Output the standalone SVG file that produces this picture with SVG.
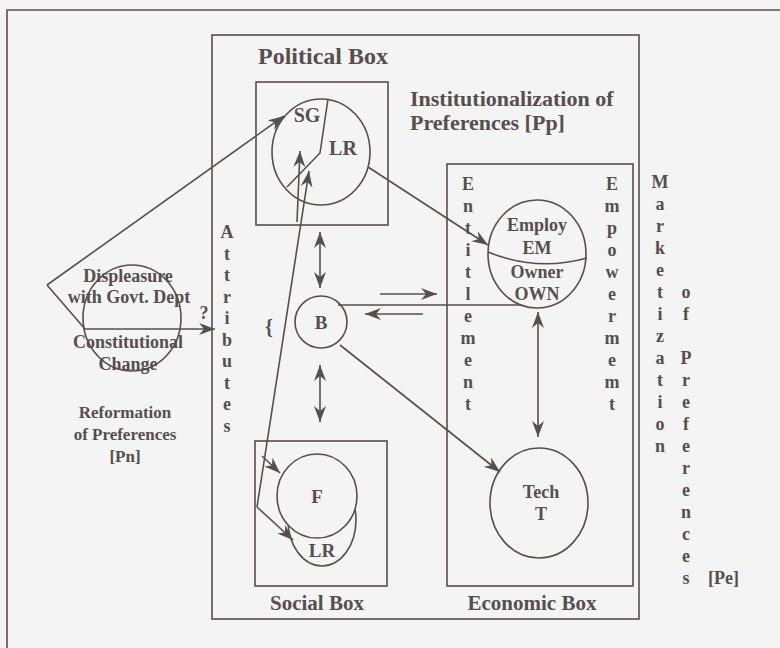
<svg xmlns="http://www.w3.org/2000/svg" width="780" height="648" viewBox="0 0 780 648">
<defs>
<marker id="ah" markerUnits="userSpaceOnUse" markerWidth="18" markerHeight="14" refX="16" refY="6" orient="auto-start-reverse">
<path d="M0,0 L16,6 L0,12 L5,6 Z" fill="#574e4e"/>
</marker>
<style>
.s{fill:none;stroke:#574e4e;stroke-width:1.6}
.n{fill:#f4f4f4;stroke:#574e4e;stroke-width:1.6}
.t{font-family:"Liberation Serif","Times New Roman",serif;font-weight:bold;fill:#574e4e;text-anchor:middle}
.tl{font-family:"Liberation Serif","Times New Roman",serif;font-weight:bold;fill:#574e4e}
.v{font-size:18px}
.a{marker-end:url(#ah)}
.d{marker-start:url(#ah);marker-end:url(#ah)}
</style>
</defs>
<rect x="0" y="0" width="780" height="648" fill="#f4f4f4"/>
<path class="s" d="M7,648 V10 H780"/>

<g id="institutional-box">
<rect class="s" x="212" y="35" width="427" height="584"/>
<text class="tl" x="410" y="106" font-size="22">Institutionalization of</text>
<text class="tl" x="410" y="130" font-size="22">Preferences [Pp]</text>
<text class="t v"><tspan x="227" y="238">A</tspan><tspan x="227" y="259.5">t</tspan><tspan x="227" y="281">t</tspan><tspan x="227" y="302.5">r</tspan><tspan x="227" y="324">i</tspan><tspan x="227" y="345.5">b</tspan><tspan x="227" y="367">u</tspan><tspan x="227" y="388.5">t</tspan><tspan x="227" y="410">e</tspan><tspan x="227" y="431.5">s</tspan></text>
<text class="t" x="269" y="334" font-size="20">{</text>
</g>

<g id="political-box">
<rect class="s" x="256" y="82" width="132" height="143"/>
<text class="tl" x="258" y="64" font-size="24">Political Box</text>
</g>

<g id="sg-lr">
<ellipse class="n" cx="321" cy="152" rx="49" ry="53"/>
<polyline class="s" points="328,99 320,153 287,187"/>
<text class="t" x="307" y="122" font-size="20">SG</text>
<text class="t" x="343" y="155" font-size="20">LR</text>
</g>

<g id="social-box">
<rect class="s" x="255" y="441" width="132" height="145"/>
<text class="t" x="317" y="610" font-size="21">Social Box</text>
</g>

<g id="lr-social">
<ellipse class="n" cx="322" cy="520" rx="34" ry="46"/>
<text class="t" x="322" y="557" font-size="19">LR</text>
</g>

<g id="f">
<ellipse class="n" cx="317" cy="496" rx="40" ry="42"/>
<text class="t" x="317" y="503" font-size="19">F</text>
</g>

<g id="b">
<circle class="n" cx="321" cy="322" r="26"/>
<text class="t" x="321" y="329" font-size="19">B</text>
</g>

<g id="economic-box">
<rect class="s" x="447" y="164" width="186" height="422"/>
<text class="t" x="532" y="610" font-size="21">Economic Box</text>
<text class="t v"><tspan x="468" y="190">E</tspan><tspan x="468" y="212">n</tspan><tspan x="468" y="234">t</tspan><tspan x="468" y="256">i</tspan><tspan x="468" y="278">t</tspan><tspan x="468" y="300">l</tspan><tspan x="468" y="322">e</tspan><tspan x="468" y="344">m</tspan><tspan x="468" y="366">e</tspan><tspan x="468" y="388">n</tspan><tspan x="468" y="410">t</tspan></text>
<text class="t v"><tspan x="612" y="190">E</tspan><tspan x="612" y="212">m</tspan><tspan x="612" y="234">p</tspan><tspan x="612" y="256">o</tspan><tspan x="612" y="278">w</tspan><tspan x="612" y="300">e</tspan><tspan x="612" y="322">r</tspan><tspan x="612" y="344">m</tspan><tspan x="612" y="366">e</tspan><tspan x="612" y="388">m</tspan><tspan x="612" y="410">t</tspan></text>
</g>

<g id="employ-owner">
<ellipse class="n" cx="537" cy="254" rx="49" ry="54"/>
<path class="s" d="M488,252 Q537,272 587,258"/>
<text class="t" x="537" y="231" font-size="18">Employ</text>
<text class="t" x="537" y="254" font-size="18">EM</text>
<text class="t" x="537" y="278" font-size="18">Owner</text>
<text class="t" x="537" y="300" font-size="18">OWN</text>
</g>

<g id="tech">
<ellipse class="n" cx="539" cy="503" rx="49" ry="55"/>
<text class="t" x="541" y="498" font-size="18">Tech</text>
<text class="t" x="541" y="520" font-size="18">T</text>
</g>

<g id="displeasure">
<ellipse class="s" cx="132" cy="318" rx="49" ry="53"/>
<text class="t" x="128" y="282" font-size="18">Displeasure</text>
<text class="t" x="129" y="303" font-size="18">with Govt. Dept</text>
<text class="t" x="204" y="319" font-size="18">?</text>
<text class="t" x="128" y="348" font-size="18">Constitutional</text>
<text class="t" x="128" y="370" font-size="18">Change</text>
</g>

<g id="reformation">
<text class="t" x="125" y="418" font-size="17">Reformation</text>
<text class="t" x="125" y="440" font-size="17">of Preferences</text>
<text class="t" x="125" y="462" font-size="17">[Pn]</text>
</g>

<g id="marketization">
<text class="t v"><tspan x="660" y="188">M</tspan><tspan x="660" y="210">a</tspan><tspan x="660" y="232">r</tspan><tspan x="660" y="254">k</tspan><tspan x="660" y="276">e</tspan><tspan x="660" y="298">t</tspan><tspan x="660" y="320">i</tspan><tspan x="660" y="342">z</tspan><tspan x="660" y="364">a</tspan><tspan x="660" y="386">t</tspan><tspan x="660" y="408">i</tspan><tspan x="660" y="430">o</tspan><tspan x="660" y="452">n</tspan></text>
<text class="t v"><tspan x="686" y="298">o</tspan><tspan x="686" y="320">f</tspan><tspan x="686" y="364">P</tspan><tspan x="686" y="386">r</tspan><tspan x="686" y="408">e</tspan><tspan x="686" y="430">f</tspan><tspan x="686" y="452">e</tspan><tspan x="686" y="474">r</tspan><tspan x="686" y="496">e</tspan><tspan x="686" y="518">n</tspan><tspan x="686" y="540">c</tspan><tspan x="686" y="562">e</tspan><tspan x="686" y="584">s</tspan></text>
<text class="tl" x="708" y="584" font-size="18">[Pe]</text>
</g>

<g id="connectors">
<line class="s a" x1="47" y1="285" x2="284" y2="116"/>
<polyline class="s a" points="47,285 85,329 215,329"/>
<line class="s a" x1="368" y1="167" x2="488" y2="245"/>
<line class="s d" x1="320" y1="232" x2="320" y2="288"/>
<line class="s d" x1="320" y1="365" x2="320" y2="422"/>
<line class="s" x1="338" y1="305" x2="522" y2="305"/>
<line class="s a" x1="380" y1="294" x2="437" y2="294"/>
<line class="s a" x1="423" y1="314" x2="365" y2="314"/>
<line class="s a" x1="340" y1="345" x2="500" y2="472"/>
<line class="s d" x1="538" y1="312" x2="538" y2="437"/>
<polyline class="s a" points="257,507 309,171"/>
<line class="s a" x1="297" y1="222" x2="300" y2="151"/>
<line class="s a" x1="262" y1="456" x2="280" y2="473"/>
<line class="s a" x1="257" y1="507" x2="293" y2="540"/>
</g>
</svg>
